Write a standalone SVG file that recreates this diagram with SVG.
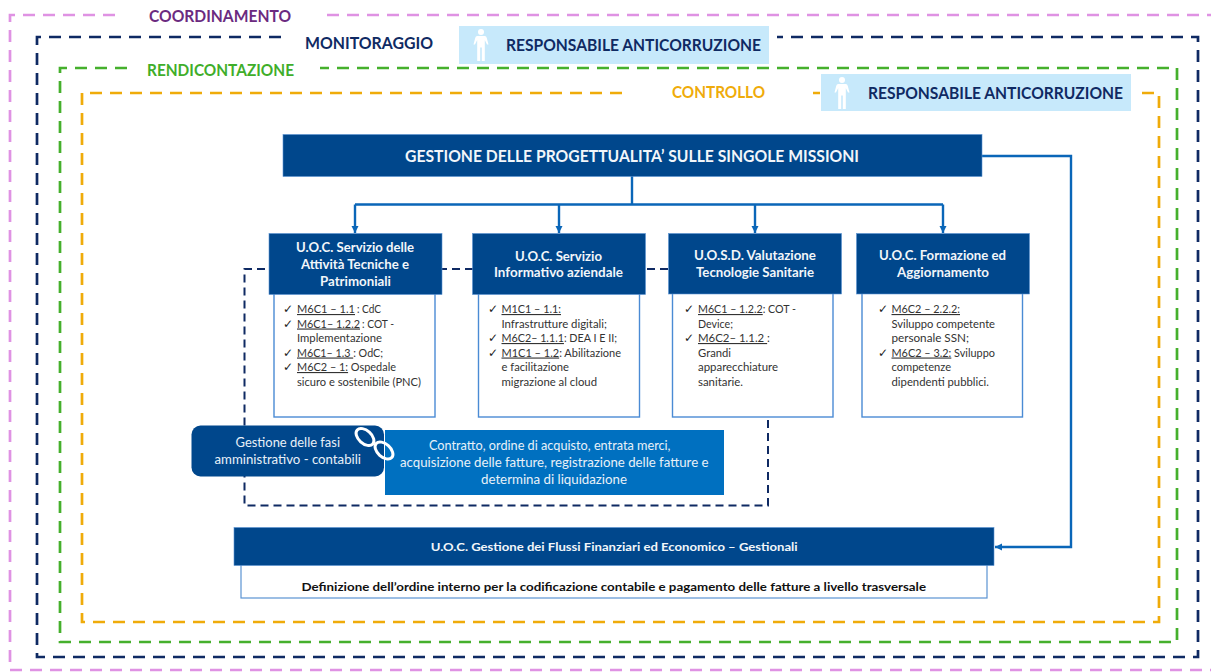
<svg xmlns="http://www.w3.org/2000/svg" width="1211" height="672" viewBox="0 0 1211 672">
<style>
text{font-family:Lato,"Open Sans","Liberation Sans",sans-serif}
.fr{fill:none;stroke-width:2.700;stroke-dasharray:12 8}
.lb{font-weight:700;font-size:17px}
.hd{fill:#00478c;stroke:#5b93d3;stroke-width:.6}
.bd{fill:#fff;stroke:#4a8bd4;stroke-width:1.4}
.ht{fill:#f2f6fa;font-weight:700;font-size:12.5px}
.tx{fill:#333;font-size:11.2px}
.ck{fill:#222;font-size:12px;font-family:"DejaVu Sans",sans-serif}
.u{text-decoration:underline}
.wt{fill:#e8f0f8;font-size:12.5px}
.lbx{fill:#c7e9fb}
.nv{fill:#0f2a63}
.ar{fill:none;stroke:#0a66b8;stroke-width:2.400}
</style>
<defs>
<marker id="arr" markerUnits="userSpaceOnUse" markerWidth="8" markerHeight="8" refX="7" refY="4" orient="auto"><path d="M0 .5L7 4L0 7.500z" fill="#0a66b8"/></marker>
<g id="person"><circle cx="0" cy="-13" r="3" fill="#fff"/><path d="M-3.800-9H3.800Q5.400-9 5.800-7L7.500-.5L6-.5L3.800-5V16H.8V2.500H-.8V16H-3.800V-5L-6-.5L-7.500-.5L-5.800-7Q-5.400-9-3.800-9z" fill="#fff"/></g>
</defs>
<rect width="1211" height="672" fill="#fff"/>

<g id="frames">
<path class="fr" stroke="#df92e3" d="M115 15H10V670H1211M327 15H1211"/>
<path class="fr" stroke="#0f2a63" d="M281 37H37V657H1198V37H777"/>
<path class="fr" stroke="#45b02c" d="M127 68H60V642H1177V68H320"/>
<path class="fr" stroke="#efab0a" d="M622 93H82V622H1159V93H1138M820 93H813"/>
<path class="fr" stroke="#0f2a63" d="M668 269H244.500V505.500H768V417" style="stroke-width:2;stroke-dasharray:8 5"/>
</g>

<g id="label-coordinamento"><text class="lb" x="149" y="22" fill="#6b2a80" textLength="142" lengthAdjust="spacingAndGlyphs">COORDINAMENTO</text></g>
<g id="label-monitoraggio"><text class="lb nv" x="305" y="49" textLength="128" lengthAdjust="spacingAndGlyphs">MONITORAGGIO</text></g>
<g id="label-rendicontazione"><text class="lb" x="147" y="76" fill="#3fae2a" textLength="147" lengthAdjust="spacingAndGlyphs">RENDICONTAZIONE</text></g>
<g id="label-controllo"><text class="lb" x="672" y="98" fill="#efab0a" textLength="93" lengthAdjust="spacingAndGlyphs">CONTROLLO</text></g>

<g id="resp-1"><rect class="lbx" x="459" y="26" width="310" height="38"/><use href="#person" x="481" y="45"/><text class="lb nv" x="506" y="51" textLength="255" lengthAdjust="spacingAndGlyphs">RESPONSABILE ANTICORRUZIONE</text></g>
<g id="resp-2"><rect class="lbx" x="821" y="74" width="310" height="37"/><use href="#person" x="842" y="93"/><text class="lb nv" x="868" y="99" textLength="255" lengthAdjust="spacingAndGlyphs">RESPONSABILE ANTICORRUZIONE</text></g>

<g id="connectors">
<path class="ar" d="M632 176V204.500M355 204.500H943"/>
<path class="ar" marker-end="url(#arr)" d="M355 204.500V233"/>
<path class="ar" marker-end="url(#arr)" d="M559 204.500V233"/>
<path class="ar" marker-end="url(#arr)" d="M755 204.500V233"/>
<path class="ar" marker-end="url(#arr)" d="M943 204.500V233"/>
<path class="ar" marker-end="url(#arr)" d="M982 156H1071V547H995"/>
</g>

<g id="top-header"><rect class="hd" x="283" y="134.500" width="699" height="42"/><text x="405" y="162" fill="#f2f6fa" font-weight="700" font-size="17" textLength="454" lengthAdjust="spacingAndGlyphs">GESTIONE DELLE PROGETTUALITA’ SULLE SINGOLE MISSIONI</text></g>

<g id="uoc-tecniche">
<rect class="bd" x="274" y="290" width="161" height="127"/>
<rect class="hd" x="269" y="233.500" width="173" height="61"/>
<text class="ht" x="296" y="251.500" textLength="118" lengthAdjust="spacingAndGlyphs">U.O.C. Servizio delle</text>
<text class="ht" x="301" y="269" textLength="108" lengthAdjust="spacingAndGlyphs">Attività Tecniche e</text>
<text class="ht" x="320" y="285.500" textLength="71" lengthAdjust="spacingAndGlyphs">Patrimoniali</text>
<text class="ck" x="283" y="313">✓</text><text class="tx u" x="297" y="313" textLength="58" lengthAdjust="spacingAndGlyphs">M6C1 – 1.1</text><text class="tx" x="357" y="313" textLength="24" lengthAdjust="spacingAndGlyphs">: CdC</text>
<text class="ck" x="283" y="327.500">✓</text><text class="tx u" x="297" y="327.500" textLength="63" lengthAdjust="spacingAndGlyphs">M6C1– 1.2.2</text><text class="tx" x="362" y="327.500" textLength="32" lengthAdjust="spacingAndGlyphs">: COT -</text>
<text class="tx" x="297" y="342" textLength="85" lengthAdjust="spacingAndGlyphs">Implementazione</text>
<text class="ck" x="283" y="356.500">✓</text><text class="tx" x="297" y="356.500" textLength="86" lengthAdjust="spacingAndGlyphs"><tspan class="u">M6C1– 1.3 </tspan>: OdC;</text>
<text class="ck" x="283" y="371">✓</text><text class="tx" x="297" y="371" textLength="99" lengthAdjust="spacingAndGlyphs"><tspan class="u">M6C2 – 1:</tspan> Ospedale</text>
<text class="tx" x="297" y="385.500" textLength="124" lengthAdjust="spacingAndGlyphs">sicuro e sostenibile (PNC)</text>
</g>

<g id="uoc-informativo">
<rect class="bd" x="478.500" y="290" width="161" height="127"/>
<rect class="hd" x="472.500" y="233.500" width="173" height="61"/>
<text class="ht" x="515" y="260.500" textLength="87" lengthAdjust="spacingAndGlyphs">U.O.C. Servizio</text>
<text class="ht" x="494" y="277" textLength="129" lengthAdjust="spacingAndGlyphs">Informativo aziendale</text>
<text class="ck" x="488" y="313">✓</text><text class="tx" x="501.500" y="313" textLength="59.500" lengthAdjust="spacingAndGlyphs"><tspan class="u">M1C1 – 1.1:</tspan></text>
<text class="tx" x="501.500" y="327.500" textLength="105.500" lengthAdjust="spacingAndGlyphs">Infrastrutture digitali;</text>
<text class="ck" x="488" y="342">✓</text><text class="tx" x="501.500" y="342" textLength="115.500" lengthAdjust="spacingAndGlyphs"><tspan class="u">M6C2– 1.1.1</tspan>: DEA I E II;</text>
<text class="ck" x="488" y="356.500">✓</text><text class="tx" x="501.500" y="356.500" textLength="119.500" lengthAdjust="spacingAndGlyphs"><tspan class="u">M1C1 – 1.2</tspan>: Abilitazione</text>
<text class="tx" x="501.500" y="371" textLength="67.500" lengthAdjust="spacingAndGlyphs">e facilitazione</text>
<text class="tx" x="501.500" y="385.500" textLength="95.500" lengthAdjust="spacingAndGlyphs">migrazione al cloud</text>
</g>

<g id="uosd-valutazione">
<rect class="bd" x="672.500" y="290" width="160.500" height="127"/>
<rect class="hd" x="668.500" y="233.500" width="173" height="60.500"/>
<text class="ht" x="694" y="259.500" textLength="122" lengthAdjust="spacingAndGlyphs">U.O.S.D. Valutazione</text>
<text class="ht" x="696" y="276.500" textLength="118" lengthAdjust="spacingAndGlyphs">Tecnologie Sanitarie</text>
<text class="ck" x="684" y="313">✓</text><text class="tx" x="698" y="313" textLength="98" lengthAdjust="spacingAndGlyphs"><tspan class="u">M6C1 – 1.2.2</tspan>: COT -</text>
<text class="tx" x="698" y="327.500" textLength="35" lengthAdjust="spacingAndGlyphs">Device;</text>
<text class="ck" x="684" y="342">✓</text><text class="tx" x="698" y="342" textLength="72" lengthAdjust="spacingAndGlyphs"><tspan class="u">M6C2– 1.1.2 </tspan>:</text>
<text class="tx" x="698" y="356.500" textLength="33" lengthAdjust="spacingAndGlyphs">Grandi</text>
<text class="tx" x="698" y="371" textLength="80" lengthAdjust="spacingAndGlyphs">apparecchiature</text>
<text class="tx" x="698" y="385.500" textLength="45" lengthAdjust="spacingAndGlyphs">sanitarie.</text>
</g>

<g id="uoc-formazione">
<rect class="bd" x="862" y="290" width="160.500" height="127"/>
<rect class="hd" x="856.500" y="233.500" width="173" height="60.500"/>
<text class="ht" x="879" y="259.500" textLength="127" lengthAdjust="spacingAndGlyphs">U.O.C. Formazione ed</text>
<text class="ht" x="897" y="276.500" textLength="92" lengthAdjust="spacingAndGlyphs">Aggiornamento</text>
<text class="ck" x="878" y="313">✓</text><text class="tx" x="891.500" y="313" textLength="68.500" lengthAdjust="spacingAndGlyphs"><tspan class="u">M6C2 – 2.2.2:</tspan></text>
<text class="tx" x="891.500" y="327.500" textLength="103.500" lengthAdjust="spacingAndGlyphs">Sviluppo competente</text>
<text class="tx" x="891.500" y="342" textLength="77.500" lengthAdjust="spacingAndGlyphs">personale SSN;</text>
<text class="ck" x="878" y="356.500">✓</text><text class="tx" x="891.500" y="356.500" textLength="103.500" lengthAdjust="spacingAndGlyphs"><tspan class="u">M6C2 – 3.2:</tspan> Sviluppo</text>
<text class="tx" x="891.500" y="371" textLength="59.500" lengthAdjust="spacingAndGlyphs">competenze</text>
<text class="tx" x="891.500" y="385.500" textLength="97.500" lengthAdjust="spacingAndGlyphs">dipendenti pubblici.</text>
</g>

<g id="contratto"><rect x="385" y="430" width="339" height="65" fill="#0070c0"/>
<text class="wt" x="429" y="450" textLength="241.500" lengthAdjust="spacingAndGlyphs">Contratto, ordine di acquisto, entrata merci,</text>
<text class="wt" x="400" y="467" textLength="308.500" lengthAdjust="spacingAndGlyphs">acquisizione delle fatture, registrazione delle fatture e</text>
<text class="wt" x="481" y="484" textLength="146" lengthAdjust="spacingAndGlyphs">determina di liquidazione</text>
</g>

<g id="gestione-fasi"><rect x="191.500" y="425.500" width="192.500" height="51" rx="9" fill="#00478c"/>
<text class="wt" x="235.500" y="447" textLength="104.500" lengthAdjust="spacingAndGlyphs">Gestione delle fasi</text>
<text class="wt" x="214.500" y="464" textLength="146.500" lengthAdjust="spacingAndGlyphs">amministrativo - contabili</text>
<g fill="none" stroke="#fff" stroke-width="3"><ellipse cx="365" cy="437" rx="10.500" ry="6.500" transform="rotate(42 365 437)"/><ellipse cx="384" cy="450.500" rx="10.500" ry="6.500" transform="rotate(42 384 450.500)"/></g>
</g>

<g id="uoc-flussi">
<rect x="241" y="560" width="746" height="38" fill="#fff" stroke="#5b93d3" stroke-width="1.200"/>
<rect class="hd" x="234" y="527.500" width="760" height="38"/>
<text x="430.700" y="551" fill="#f2f6fa" font-weight="700" font-size="11" textLength="367" lengthAdjust="spacingAndGlyphs">U.O.C. Gestione dei Flussi Finanziari ed Economico – Gestionali</text>
<text x="301.500" y="591" fill="#111" font-weight="700" font-size="12" textLength="624.500" lengthAdjust="spacingAndGlyphs">Definizione dell’ordine interno per la codificazione contabile e pagamento delle fatture a livello trasversale</text>
</g>
</svg>
